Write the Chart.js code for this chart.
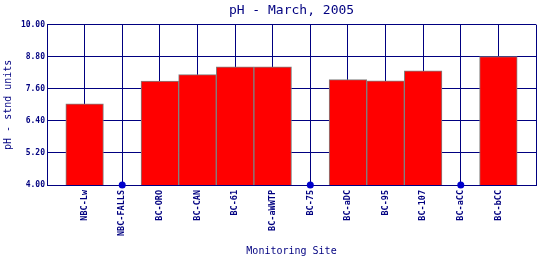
<!DOCTYPE html>
<html>
<head>
<meta charset="utf-8">
<script src="https://cdn.jsdelivr.net/npm/chart.js@4/dist/chart.umd.min.js"></script>
<style>
  html, body { margin: 0; padding: 0; background: #fff; }
  canvas { display: block; }
</style>
</head>
<body>
<canvas id="phChart" width="540" height="260"></canvas>
<script>
const sites = ['NBC-Lw', 'NBC-FALLS', 'BC-ORO', 'BC-CAN', 'BC-61', 'BC-aWWTP', 'BC-75', 'BC-aDC', 'BC-95', 'BC-107', 'BC-aCC', 'BC-bCC'];
const phValues = [7.04, null, 7.89, 8.13, 8.42, 8.42, null, 7.94, 7.90, 8.27, null, 8.80];
const yTicks = [4.00, 5.20, 6.40, 7.60, 8.80, 10.00];

const NAVY = '#000080';
const MONO = '"DejaVu Sans Mono", "Liberation Mono", monospace';

// sites with no sample get a dot on the bottom axis
const noData = phValues.map((v, i) => ({ x: i, y: v === null ? yTicks[0] : null }));
const bars = phValues.map((v, i) => ({ x: i, y: v }));

new Chart(document.getElementById('phChart'), {
  type: 'bar',
  data: {
    datasets: [
      {
        type: 'scatter',
        data: noData,
        showLine: false,
        pointRadius: 3.5,
        pointBackgroundColor: '#0000cc',
        pointBorderWidth: 0,
        clip: false,
        order: 0
      },
      {
        data: bars,
        backgroundColor: '#ff0000',
        borderColor: '#808080',
        borderWidth: 1,
        borderSkipped: false,
        barPercentage: 1,
        categoryPercentage: 1,
        order: 1
      }
    ]
  },
  options: {
    responsive: false,
    animation: false,
    devicePixelRatio: 1,
    layout: { padding: { left: 0, right: 4, top: 0, bottom: 0 } },
    plugins: {
      legend: { display: false },
      tooltip: { enabled: false },
      title: {
        display: true,
        text: 'pH - March, 2005',
        color: NAVY,
        fullSize: false,
        font: { family: MONO, size: 13, weight: 'normal' },
        padding: { top: 3, bottom: 6 }
      }
    },
    scales: {
      x: {
        type: 'linear',
        position: 'bottom',
        offset: false,
        min: -1,
        max: sites.length,
        // one grid line per site, plus the two frame edges
        afterBuildTicks: s => { s.ticks = Array.from({ length: sites.length + 2 }, (_, i) => ({ value: i - 1 })); },
        afterFit: s => { s.height = 75; s.paddingLeft = 0; s.paddingRight = 0; },
        grid: { color: NAVY, lineWidth: 1, drawTicks: false, offset: false },
        border: { display: true, color: NAVY, width: 1 },
        ticks: {
          autoSkip: false,
          minRotation: 90,
          maxRotation: 90,
          padding: 5,
          color: NAVY,
          font: { family: MONO, size: 8.5, weight: 'bold' },
          callback: v => sites[v] ?? ''
        },
        title: {
          display: true,
          text: 'Monitoring Site',
          color: NAVY,
          font: { family: MONO, size: 10 },
          padding: { top: 0, bottom: 3 }
        }
      },
      y: {
        min: yTicks[0],
        max: yTicks[yTicks.length - 1],
        afterBuildTicks: s => { s.ticks = yTicks.map(v => ({ value: v })); },
        afterFit: s => { s.width = 47; s.paddingTop = 0; s.paddingBottom = 0; },
        grid: { color: NAVY, lineWidth: 1, drawTicks: false },
        border: { display: true, color: NAVY, width: 1 },
        ticks: {
          padding: 2,
          color: NAVY,
          font: { family: MONO, size: 8, weight: 'bold' },
          callback: v => Number(v).toFixed(2)
        },
        title: {
          display: true,
          text: 'pH - stnd units',
          color: NAVY,
          font: { family: MONO, size: 10 },
          padding: { top: 2, bottom: 0 }
        }
      }
    }
  }
});
</script>
</body>
</html>
